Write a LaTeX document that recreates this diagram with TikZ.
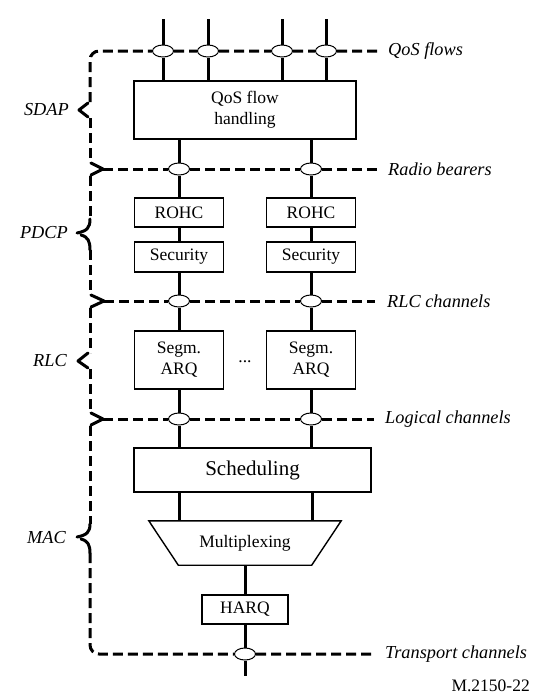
\documentclass[tikz,border=0pt]{standalone}
\usepackage{fontspec}
\setmainfont{Liberation Serif}
\usetikzlibrary{shapes.geometric}
\pgfdeclarelayer{bg}
\pgfsetlayers{bg,main}
\begin{document}
\begin{tikzpicture}[x=1pt,y=-1pt,
  box/.style={draw, line width=1.4pt, fill=white, inner sep=0pt, align=center, font=\fontsize{17.5}{21}\selectfont},
  conn/.style={line width=3pt},
  dline/.style={line width=3pt, dash pattern=on 10pt off 5pt},
  chev/.style={line width=3pt, line cap=round, line join=round},
  oval/.style={ellipse, draw, fill=white, line width=1pt, minimum width=21pt, minimum height=12pt, inner sep=0pt},
  lab/.style={inner sep=0pt, font=\fontsize{18.3}{22}\selectfont\itshape},
  txt/.style={inner sep=0pt, font=\fontsize{17.5}{21}\selectfont}]
\useasboundingbox (0,0) rectangle (539,696);

% boxes
\node[box, minimum width=222pt, minimum height=58pt] (qos) at (245,110) {QoS flow\\handling};
\node[box, minimum width=89pt, minimum height=29pt] (rohc1) at (179,212.5) {ROHC};
\node[box, minimum width=89pt, minimum height=29pt] (rohc2) at (311,212.5) {ROHC};
\node[box, minimum width=89pt, minimum height=30pt] (sec1) at (179,257) {Security};
\node[box, minimum width=89pt, minimum height=30pt] (sec2) at (311,257) {Security};
\node[box, minimum width=89pt, minimum height=58pt] (seg1) at (179,360) {Segm.\\ARQ};
\node[box, minimum width=89pt, minimum height=58pt] (seg2) at (311,360) {Segm.\\ARQ};
\node[txt] (dots) at (245,362) {...};
\node[box, minimum width=237pt, minimum height=44pt, font=\fontsize{21}{25}\selectfont] (sched) at (252.5,470) {Scheduling};
\node[txt, minimum width=192pt, minimum height=44pt] (mux) at (245,543) {Multiplexing};
\draw[line width=1.4pt] (mux.north west) -- (mux.north east) -- ([xshift=-29.5pt]mux.south east) -- ([xshift=29.5pt]mux.south west) -- cycle;
\node[box, minimum width=86pt, minimum height=29pt] (harq) at (245,609.5) {HARQ};

% ovals
\node[oval] (q1) at (163,51) {};
\node[oval] (q2) at (208,51) {};
\node[oval] (q3) at (282,51) {};
\node[oval] (q4) at (326,51) {};
\node[oval] (rb1) at (179,169) {};
\node[oval] (rb2) at (311,169) {};
\node[oval] (rl1) at (179,301) {};
\node[oval] (rl2) at (311,301) {};
\node[oval] (lg1) at (179,419) {};
\node[oval] (lg2) at (311,419) {};
\node[oval] (tr) at (245,654) {};

% free ends
\coordinate (t1) at (163,19);
\coordinate (t2) at (208,19);
\coordinate (t3) at (282,19);
\coordinate (t4) at (326,19);
\coordinate (bot) at (245,676);
\coordinate (qend) at (377,51);
\coordinate (rbtip) at (103,169);
\coordinate (rbend) at (377,169);
\coordinate (rltip) at (104,301);
\coordinate (rlend) at (375,301);
\coordinate (lgtip) at (103,419);
\coordinate (lgend) at (374,419);
\coordinate (trend) at (372,654);

% labels
\node[lab, anchor=west] (lqos) at (388,51) {QoS flows};
\node[lab, anchor=west] (lrb) at (388,169) {Radio bearers};
\node[lab, anchor=west] (lrl) at (387,301) {RLC channels};
\node[lab, anchor=west] (llg) at (385,419) {Logical channels};
\node[lab, anchor=west] (ltr) at (385,654) {Transport channels};
\node[lab, anchor=east] (lsdap) at (69,110) {SDAP};
\node[lab, anchor=east] (lpdcp) at (68,233) {PDCP};
\node[lab, anchor=east] (lrlc) at (67,361) {RLC};
\node[lab, anchor=east] (lmac) at (66,538) {MAC};
\node[txt, anchor=east] (fig) at (530,686) {M.2150-22};

\begin{pgfonlayer}{bg}
\fill[white] (0,0) rectangle (539,696);
% connectors
\foreach \i in {1,...,4} \draw[conn] (t\i) -- (q\i) -- (q\i |- qos.north);
\draw[conn] (rb1 |- qos.south) -- (rb1) -- (rohc1) -- (sec1) -- (rl1) -- (seg1) -- (lg1) -- (lg1 |- sched.north);
\draw[conn] (rb2 |- qos.south) -- (rb2) -- (rohc2) -- (sec2) -- (rl2) -- (seg2) -- (lg2) -- (lg2 |- sched.north);
\draw[conn] (lg1 |- sched.south) -- (lg1 |- mux.north);
\draw[conn] ([xshift=1pt]lg2 |- sched.south) -- ([xshift=1pt]lg2 |- mux.north);
\draw[conn] (mux.south) -- (harq) -- (tr) -- (bot);

% dashed layer boundaries
\draw[dline, rounded corners=9pt] (90,102) -- (90,51) -- (q1) -- (q2) -- (q3) -- (q4) -- (qend);
\draw[dline] (rbtip) -- (rb1) -- (rb2) -- (rbend);
\draw[dline] (rltip) -- (rl1) -- (rl2) -- (rlend);
\draw[dline] (lgtip) -- (lg1) -- (lg2) -- (lgend);
\draw[dline, rounded corners=9pt] (90,553) -- (90,654) -- (tr) -- (trend);

% vertical dashed parts
\draw[dline] (90,118) -- (90,163);
\draw[dline] (90,176) -- (90,219);
\draw[dline] (90,250) -- (90,295);
\draw[dline] (90,308) -- (90,353);
\draw[dline] (90,369) -- (90,413);
\draw[dline] (90,426) -- (90,524);

% chevrons
\draw[chev] (88,103) -- (79,110) -- (88,117);
\draw[chev] (91,163) -- (rbtip) -- (91,175);
\draw[chev] (91,295) -- (rltip) -- (91,307);
\draw[chev] (88,353) -- (78,361) -- (88,368);
\draw[chev] (91,413) -- (lgtip) -- (91,425);
% curly tips
\draw[chev] (90,219) .. controls (90,228) and (87,231) .. (77,233);
\draw[chev] (81,235) .. controls (88,237) and (90,241) .. (90,250);
\draw[chev] (90,524) .. controls (90,532) and (87,535) .. (77,537);
\draw[chev] (81,539) .. controls (88,541) and (90,545) .. (90,553);
\end{pgfonlayer}
\end{tikzpicture}
\end{document}
